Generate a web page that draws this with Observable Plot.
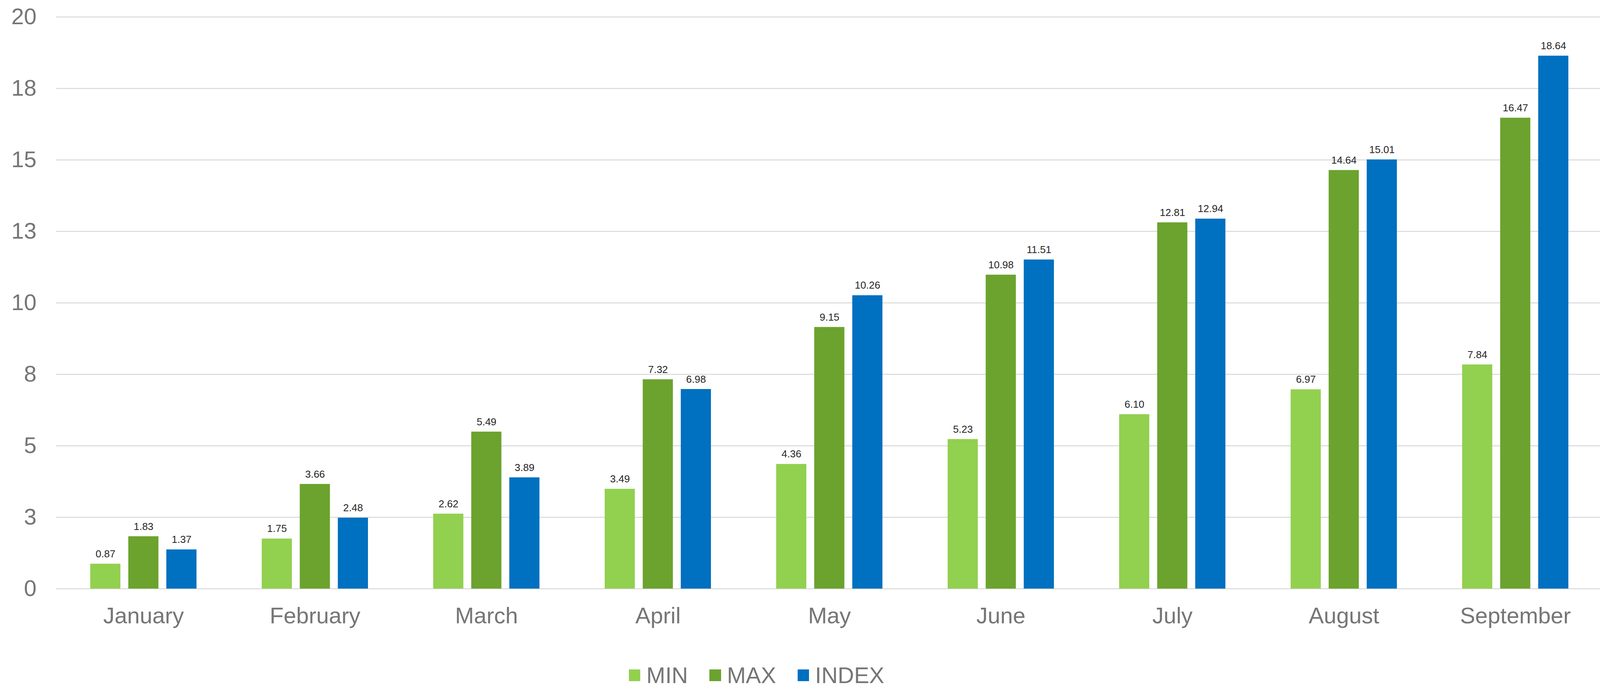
<!DOCTYPE html>
<html>
<head>
<meta charset="utf-8">
<script src="https://cdn.jsdelivr.net/npm/d3@7"></script>
<script src="https://cdn.jsdelivr.net/npm/@observablehq/plot@0.6"></script>
<style>
  html, body { margin: 0; padding: 0; background: #ffffff; overflow: hidden; }
  #wrap { position: relative; height: 1759px; font-family: "Liberation Sans", Arial, sans-serif; }
  #chart svg { max-width: none; display: block; }
  #legend { position: absolute; top: 1697px; display: flex; align-items: center; font-size: 58px; line-height: 64px; color: #767676; }
  .item { display: flex; align-items: center; }
  .sw { height: 30px; }
</style>
</head>
<body>
<div id="wrap"><div id="chart"></div><div id="legend"></div></div>
<script>
const months = ["January", "February", "March", "April", "May", "June", "July", "August", "September"];
const series = ["MIN", "MAX", "INDEX"];
const minValues = [0.87, 1.75, 2.62, 3.49, 4.36, 5.23, 6.10, 6.97, 7.84];
const maxValues = [1.83, 3.66, 5.49, 7.32, 9.15, 10.98, 12.81, 14.64, 16.47];
const indexValues = [1.37, 2.48, 3.89, 6.98, 10.26, 11.51, 12.94, 15.01, 18.64];
const seriesColors = ["#92D050", "#6BA32E", "#0070C0"];
const yTicks = [0, 2.5, 5, 7.5, 10, 12.5, 15, 17.5, 20];
const yTickLabels = ["0", "3", "5", "8", "10", "13", "15", "18", "20"];

const valuesBySeries = [minValues, maxValues, indexValues];
const rows = series.flatMap((s, i) => months.map((m, j) => ({month: m, series: s, value: valuesBySeries[i][j]})));

// design width is 4225; adapt horizontally to the actual viewport width
const W = Math.min(window.innerWidth || 4225, 4225);
const kx = W / 4225;
const H = 1640;
const xRange = [148 * kx, 4232 * kx];
const xPad = 0.381;
const bw = d3.scaleBand(months, xRange).paddingInner(xPad).paddingOuter(xPad / 2).bandwidth();
const gap = 20.5 * kx;
const barW = (bw - 2 * gap) / 3;
const stepIn = barW + gap;

const marks = [
  Plot.gridY(yTicks, {stroke: "#d9d9d9", strokeWidth: 2.5, strokeOpacity: 1}),
  Plot.axisY({ticks: yTicks, tickSize: 0, tickPadding: 52 * kx, fontSize: 58, tickFormat: (d, i) => yTickLabels[i], label: null}),
  Plot.axisX({tickSize: 0, tickPadding: 47, fontSize: 58, label: null})
];
series.forEach((s, i) => {
  const data = rows.filter(d => d.series === s);
  marks.push(Plot.barY(data, {x: "month", y: "value", fill: "series", insetLeft: i * stepIn, insetRight: (2 - i) * stepIn}));
  marks.push(Plot.text(data, {x: "month", y: "value", text: d => d.value.toFixed(2), dx: (i - 1) * stepIn, dy: -17, lineAnchor: "bottom", fontSize: 26, fill: "#262626"}));
});

const chart = Plot.plot({
  width: W,
  height: H,
  marginTop: 43,
  marginBottom: H - 1507,
  marginLeft: 148 * kx,
  marginRight: 0,
  style: {fontFamily: "'Liberation Sans', Arial, sans-serif", color: "#767676", background: "#ffffff"},
  x: {domain: months, range: xRange, paddingInner: xPad, paddingOuter: xPad / 2, label: null, axis: null},
  y: {domain: [0, 20], label: null, axis: null},
  color: {domain: series, range: seriesColors},
  marks
});
document.getElementById("chart").appendChild(chart);
document.getElementById("wrap").style.width = W + "px";

const legend = document.getElementById("legend");
legend.style.left = (1661 * kx) + "px";
series.forEach((s, i) => {
  const item = document.createElement("div");
  item.className = "item";
  item.style.marginRight = i < series.length - 1 ? (57 * kx) + "px" : "0";
  const sw = document.createElement("div");
  sw.className = "sw";
  sw.style.width = (30 * kx) + "px";
  sw.style.marginRight = (16 * kx) + "px";
  sw.style.background = seriesColors[i];
  const t = document.createElement("span");
  t.textContent = s;
  item.appendChild(sw);
  item.appendChild(t);
  legend.appendChild(item);
});
</script>
</body>
</html>
